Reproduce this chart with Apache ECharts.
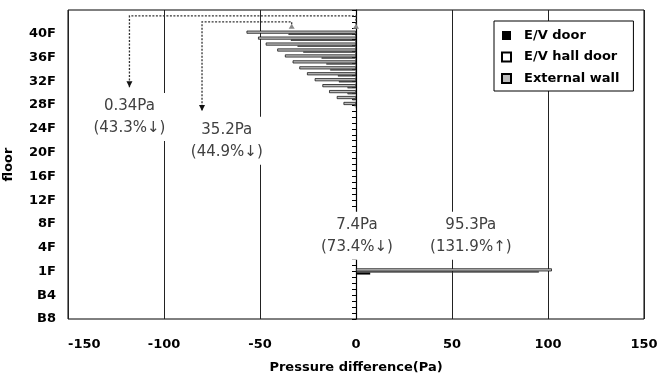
<!DOCTYPE html>
<html>
<head>
<meta charset="utf-8">
<script src="https://cdn.jsdelivr.net/npm/echarts@6/dist/echarts.min.js"></script>
<style>
html, body { margin: 0; padding: 0; background: #fff; }
#myChart { width: 660px; height: 376px; }
</style>
</head>
<body>
<div id="myChart"></div>
<script>
// y axis: one row per floor step, a tick label every 4 rows
const yTickLabels = ["B8", "B4", "1F", "4F", "8F", "12F", "16F", "20F", "24F", "28F", "32F", "36F", "40F"];
const rowCount = 53;

// floors that have bars (top floors + 1F)
const floors = ["40F", "39F", "38F", "37F", "36F", "35F", "34F", "33F", "32F", "31F", "30F", "29F", "28F", "1F"];
const evDoor = [-0.34, -0.3, -0.3, -0.3, -0.25, -0.2, -0.2, -0.2, -0.15, -0.1, -0.1, -0.1, -0.1, 7.4];
const hallDoor = [-35.2, -34, -30.5, -27.5, -18, -15.5, -13.5, -9.5, -9, -4.5, -4.5, -2, -1, 95.3];
const extWall = [-57, -51, -47, -41, -37, -33, -29.5, -25.5, -21.5, -17.5, -14, -10, -6.5, 102];

const xMin = -150, xMax = 150, xStep = 50;

// annotation texts (x in Pa, row on the floor axis)
const notes = [
  { text: "0.34Pa\n(43.3%↓)", x: -118, row: 33.9 },
  { text: "35.2Pa\n(44.9%↓)", x: -67.3, row: 29.7 },
  { text: "7.4Pa\n(73.4%↓)", x: 0.5, row: 14.0 },
  { text: "95.3Pa\n(131.9%↑)", x: 59.8, row: 14.0 }
];
// dashed leader lines from the 40F bars down to the notes
const leaders = [
  [[0, 49.1], [0, 51.3], [-118, 51.3], [-118, 39.0]],
  [[-33.5, 49.1], [-33.5, 50.3], [-80.2, 50.3], [-80.2, 34.7]]
];

const fontFamily = "DejaVu Sans";

function rowOf(f) {
  if (f === "1F") return 8;
  if (f[0] === "B") return 8 - parseInt(f.slice(1));
  return parseInt(f) + 8;
}

const rows = [];
for (let i = 0; i < rowCount; i++) rows.push(String(i));

let myChart = echarts.init(document.getElementById("myChart"));

let option = {
  animation: false,
  grid: {
    left: 68, right: 16, top: 10, bottom: 57,
    outerBoundsMode: "none",
    show: true, borderColor: "#000", borderWidth: 1
  },
  legend: {
    data: ["E/V door", "E/V hall door", "External wall"],
    orient: "vertical",
    left: 494, top: 21,
    backgroundColor: "#fff",
    borderColor: "#000", borderWidth: 1,
    padding: [8, 14, 6, 7],
    icon: "rect",
    itemWidth: 9, itemHeight: 9, itemGap: 8.5,
    selectedMode: false,
    textStyle: { fontFamily, fontWeight: "bold", fontSize: 13, color: "#000", padding: [0, 0, 0, 8] }
  },
  xAxis: {
    type: "value",
    min: xMin, max: xMax, interval: xStep,
    axisLine: { show: false },
    axisTick: { show: false },
    splitLine: { show: true, lineStyle: { color: "#222", width: 1 } },
    axisLabel: { fontFamily, fontWeight: "bold", fontSize: 13, color: "#000", margin: 19, alignMinLabel: "left" },
    name: "Pressure difference(Pa)",
    nameLocation: "middle",
    nameGap: 42,
    nameTextStyle: { fontFamily, fontWeight: "bold", fontSize: 13, color: "#000" }
  },
  yAxis: [
    {
      type: "category",
      data: rows,
      boundaryGap: false,
      axisLine: { show: false, onZero: false },
      axisTick: { show: false },
      splitLine: { show: false },
      axisLabel: {
        interval: 3,
        margin: 12,
        fontFamily, fontWeight: "bold", fontSize: 13, color: "#000",
        formatter: function (v) { return yTickLabels[Number(v) / 4] || ""; }
      },
      name: "floor",
      nameLocation: "middle",
      nameRotate: 90,
      nameGap: 53,
      nameTextStyle: { fontFamily, fontWeight: "bold", fontSize: 13, color: "#000" }
    },
    {
      // zero line with a tick for every floor
      type: "category",
      data: rows,
      boundaryGap: false,
      axisLine: { show: true, onZero: true, lineStyle: { color: "#000", width: 1.2 } },
      axisTick: { show: true, inside: true, interval: 0, length: 4, lineStyle: { color: "#000" } },
      axisLabel: { show: false },
      splitLine: { show: false }
    }
  ],
  series: [
    {
      name: "External wall", type: "bar", yAxisIndex: 0,
      barWidth: 3, barGap: 0,
      itemStyle: { color: "#bdbdbd", borderColor: "#000", borderWidth: 0.7 },
      data: floors.map((f, i) => [extWall[i], rowOf(f)])
    },
    {
      name: "E/V hall door", type: "bar", yAxisIndex: 0,
      barWidth: 1.2, barGap: 0,
      itemStyle: { color: "#fff", borderColor: "#000", borderWidth: 0.6 },
      data: floors.map((f, i) => [hallDoor[i], rowOf(f)])
    },
    {
      name: "E/V door", type: "bar", yAxisIndex: 0,
      barWidth: 2, barGap: 0,
      itemStyle: { color: "#000" },
      data: floors.map((f, i) => [evDoor[i], rowOf(f)])
    }
  ]
};
myChart.setOption(option);

// annotations placed through the chart's own axes
function px(x, row) {
  return myChart.convertToPixel({ gridIndex: 0 }, [x, row]);
}
let graphics = [];
leaders.forEach(function (pts) {
  let p = pts.map(function (d) { return px(d[0], d[1]); });
  let s = p[0], e = p[p.length - 1];
  graphics.push({
    type: "polyline", z: 100,
    shape: { points: p },
    style: { stroke: "#333", lineWidth: 1.3, lineDash: [2, 1.5], fill: null }
  });
  graphics.push({
    type: "polygon", z: 100,
    shape: { points: [[e[0] - 3, e[1] - 6], [e[0] + 3, e[1] - 6], [e[0], e[1]]] },
    style: { fill: "#111" }
  });
  graphics.push({
    type: "polygon", z: 100,
    shape: { points: [[s[0] - 3, s[1] + 1], [s[0] + 3, s[1] + 1], [s[0], s[1] - 4]] },
    style: { fill: "#888" }
  });
});
notes.forEach(function (n) {
  let p = px(n.x, n.row);
  graphics.push({
    type: "text", z: 100,
    x: p[0], y: p[1],
    style: {
      text: n.text,
      font: '15px "DejaVu Sans"',
      fill: "#404040",
      align: "center",
      verticalAlign: "middle",
      lineHeight: 22,
      backgroundColor: "#fff",
      padding: [2, 2]
    }
  });
});
myChart.setOption({ graphic: graphics });
</script>
</body>
</html>
